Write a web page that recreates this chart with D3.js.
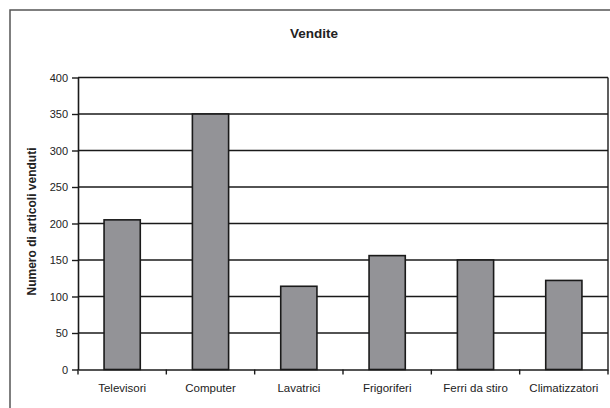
<!DOCTYPE html>
<html>
<head>
<meta charset="utf-8">
<script src="https://cdn.jsdelivr.net/npm/d3@7"></script>
<style>
html,body{margin:0;padding:0;background:#fff;}
svg{display:block;}
text{font-family:Arial,"Liberation Sans",sans-serif;fill:#222;}
</style>
</head>
<body>
<svg id="chart" width="610" height="408"></svg>
<script>
const categories = ["Televisori","Computer","Lavatrici","Frigoriferi","Ferri da stiro","Climatizzatori"];
const values = [205, 350, 114, 156, 150, 122];
const yTicks = [0, 50, 100, 150, 200, 250, 300, 350, 400];
const title = "Vendite";
const yLabel = "Numero di articoli venduti";

const svg = d3.select("#chart");
const W = 610, H = 408;
const m = {left: 78, right: 2, top: 77.5, bottom: 38.5};

// outer chart border (extends beyond the visible area)
svg.append("rect").attr("x", 10).attr("y", 10).attr("width", 640).attr("height", 440)
  .attr("fill", "none").attr("stroke", "#555").attr("stroke-width", 1.5);

const x = d3.scaleBand().domain(categories).range([m.left, W - m.right]).paddingInner(0.59).paddingOuter(0.295);
const xb = d3.scaleBand().domain(categories).range([m.left, W - m.right]);
const y = d3.scaleLinear().domain([0, 400]).range([H - m.bottom, m.top]);

// gridlines
svg.append("g").selectAll("line").data(yTicks.filter(d => d > 0)).join("line")
  .attr("x1", m.left).attr("x2", W - m.right)
  .attr("y1", d => y(d)).attr("y2", d => y(d))
  .attr("stroke", "#1a1a1a").attr("stroke-width", 1.4);

// right border of plot area
svg.append("line").attr("x1", W - m.right).attr("x2", W - m.right)
  .attr("y1", y(400)).attr("y2", y(0)).attr("stroke", "#1a1a1a").attr("stroke-width", 1.4);

// bars
svg.append("g").selectAll("rect").data(values).join("rect")
  .attr("x", (d, i) => x(categories[i]))
  .attr("width", x.bandwidth())
  .attr("y", d => y(d))
  .attr("height", d => y(0) - y(d))
  .attr("fill", "#939397").attr("stroke", "#1a1a1a").attr("stroke-width", 1.6);

// y axis
const yAxis = svg.append("g").attr("transform", `translate(${m.left},0)`)
  .call(d3.axisLeft(y).tickValues(yTicks).tickSize(6).tickPadding(4).tickSizeOuter(0));
yAxis.select(".domain").attr("stroke", "#1a1a1a").attr("stroke-width", 1.6);
yAxis.selectAll(".tick line").attr("stroke", "#1a1a1a").attr("stroke-width", 1.4);
yAxis.selectAll("text").attr("font-size", 11).attr("fill", "#333");

// x axis
const xAxis = svg.append("g").attr("transform", `translate(0,${y(0)})`)
  .call(d3.axisBottom(xb).tickSize(0).tickPadding(14).tickSizeOuter(0));
xAxis.select(".domain").attr("stroke", "#1a1a1a").attr("stroke-width", 1.6);
xAxis.selectAll("text").attr("font-size", 11.5).attr("fill", "#333");
// tick marks at category boundaries
svg.append("g").selectAll("line").data(d3.range(categories.length + 1)).join("line")
  .attr("x1", i => m.left + i * xb.step()).attr("x2", i => m.left + i * xb.step())
  .attr("y1", y(0)).attr("y2", y(0) + 5)
  .attr("stroke", "#1a1a1a").attr("stroke-width", 1.4);

// title
svg.append("text").attr("x", 314).attr("y", 38).attr("text-anchor", "middle")
  .attr("font-size", 13.5).attr("font-weight", "bold").text(title);

// y label
svg.append("text").attr("transform", `translate(36,${(y(0) + y(400)) / 2 - 2}) rotate(-90)`)
  .attr("text-anchor", "middle").attr("font-size", 12).attr("font-weight", "bold").text(yLabel);
</script>
</body>
</html>
